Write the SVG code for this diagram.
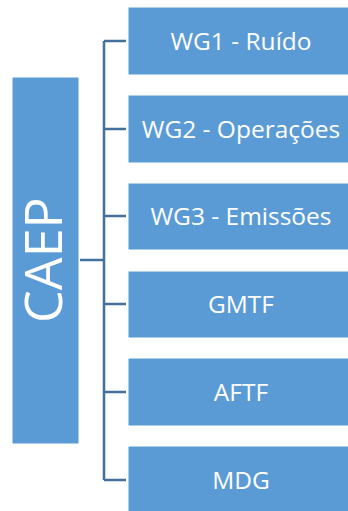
<svg xmlns="http://www.w3.org/2000/svg" width="348" height="511" viewBox="0 0 348 511">
<style>
.box{fill:#5B9BD5;stroke:#FFFFFF;stroke-width:1}
.lbl{fill:#FFFFFF;font-family:"Open Sans","Liberation Sans",sans-serif;font-size:24.5px;text-anchor:middle}
.big{fill:#FFFFFF;font-family:"Open Sans","Liberation Sans",sans-serif;font-size:52px;text-anchor:middle}
.conn{fill:none;stroke:#41719C;stroke-width:2.5}
</style>
<rect width="348" height="511" fill="#FFFFFF"/>
<g id="connectors">
<path class="conn" d="M80 260H104M104 41V480M104 41H126M104 129H126M104 216H126M104 304H126M104 392H126M104 480H126"/>
</g>
<g id="caep">
<rect class="box" x="12" y="77" width="67" height="367"/>
<text class="big" transform="translate(62,260) rotate(-90)" x="0" y="0">CAEP</text>
</g>
<g id="wg1">
<rect class="box" x="128" y="7" width="228" height="68"/>
<text class="lbl" x="241" y="49.5">WG1 - Ruído</text>
</g>
<g id="wg2">
<rect class="box" x="128" y="95" width="228" height="68"/>
<text class="lbl" x="241" y="137.5">WG2 - Operações</text>
</g>
<g id="wg3">
<rect class="box" x="128" y="183" width="228" height="67"/>
<text class="lbl" x="241" y="224.5">WG3 - Emissões</text>
</g>
<g id="gmtf">
<rect class="box" x="128" y="271" width="228" height="67"/>
<text class="lbl" x="241" y="312.5">GMTF</text>
</g>
<g id="aftf">
<rect class="box" x="128" y="358" width="228" height="68"/>
<text class="lbl" x="241" y="400.5">AFTF</text>
</g>
<g id="mdg">
<rect class="box" x="128" y="446" width="228" height="68"/>
<text class="lbl" x="241" y="488.5">MDG</text>
</g>
</svg>
